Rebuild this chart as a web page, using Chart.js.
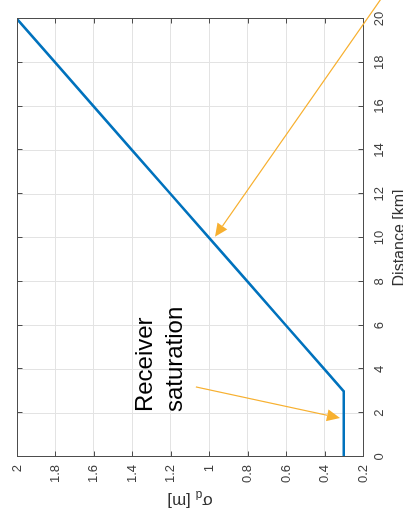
<!DOCTYPE html>
<html>
<head>
<meta charset="utf-8">
<script src="https://cdn.jsdelivr.net/npm/chart.js@4"></script>
<style>
  html, body { margin: 0; padding: 0; background: #fff; }
  body { width: 403px; height: 519px; overflow: hidden; position: relative; }
  /* chart drawn landscape, then turned a quarter turn like the figure */
  #wrap {
    position: absolute; left: 0; top: 0;
    width: 519px; height: 403px;
    transform-origin: 0 0;
    transform: translate(0, 519px) rotate(-90deg);
  }
</style>
</head>
<body>
<div id="wrap"><canvas id="sigmaChart" width="519" height="403"></canvas></div>
<script>
(function () {
  'use strict';

  /* --- DATA --- */
  const distanceKm = [0, 1, 2, 3, 3.9, 6, 8, 10, 12.1, 14, 16.2, 18, 20];
  const sigmaM     = [0.3, 0.3, 0.3, 0.3, 0.39, 0.6, 0.8, 1.0, 1.21, 1.4, 1.62, 1.8, 2.0];

  const distanceTicks = [0, 2, 4, 6, 8, 10, 12, 14, 16, 18, 20];
  const sigmaTicks    = [0.2, 0.4, 0.6, 0.8, 1, 1.2, 1.4, 1.6, 1.8, 2];

  /* annotation anchors, in data units [km, m] */
  const noteLines    = ['Receiver', 'saturation'];
  const noteAnchors  = [[2.05, 1.30], [2.05, 1.14]];
  const satArrow     = { from: [3.2, 1.07], to: [1.78, 0.32] };
  const slopeArrow   = { from: [23.0, -0.06], to: [10.06, 0.97] };

  const FONT   = "'Liberation Sans', Arial, Helvetica, sans-serif";
  const AXIS   = '#404040';
  const GRID   = '#e3e3e3';
  const ORANGE = '#F7B030';

  function seta(ctx, x0, y0, x1, y1) {
    const ang = Math.atan2(y1 - y0, x1 - x0);
    const L = 13, W = 6;
    const bx = x1 - L * Math.cos(ang), by = y1 - L * Math.sin(ang);
    ctx.beginPath();
    ctx.moveTo(x0, y0);
    ctx.lineTo(bx, by);
    ctx.stroke();
    ctx.beginPath();
    ctx.moveTo(x1, y1);
    ctx.lineTo(bx - W * Math.sin(ang), by + W * Math.cos(ang));
    ctx.lineTo(bx + W * Math.sin(ang), by - W * Math.cos(ang));
    ctx.closePath();
    ctx.fill();
  }

  /* box, inner ticks, titles, annotations */
  const moldura = {
    id: 'moldura',
    afterDraw(chart) {
      const { ctx, chartArea: a, scales: { x, y } } = chart;
      ctx.save();

      ctx.strokeStyle = '#4d4d4d';
      ctx.lineWidth = 1;
      const L = Math.round(a.left) + 0.5, R = Math.round(a.right) + 0.5;
      const T = Math.round(a.top) + 0.5, B = Math.round(a.bottom) + 0.5;
      ctx.strokeRect(L, T, R - L, B - T);
      ctx.beginPath();
      distanceTicks.forEach(d => {
        const px = Math.round(x.getPixelForValue(d)) + 0.5;
        ctx.moveTo(px, B); ctx.lineTo(px, B - 5);
        ctx.moveTo(px, T); ctx.lineTo(px, T + 5);
      });
      sigmaTicks.forEach(s => {
        const py = Math.round(y.getPixelForValue(s)) + 0.5;
        ctx.moveTo(L, py); ctx.lineTo(L + 5, py);
        ctx.moveTo(R, py); ctx.lineTo(R - 5, py);
      });
      ctx.stroke();

      /* x title */
      ctx.fillStyle = '#333';
      ctx.font = '16px ' + FONT;
      ctx.textAlign = 'center';
      ctx.textBaseline = 'alphabetic';
      ctx.fillText('Distance [km]', (a.left + a.right) / 2, a.bottom + 40.5);

      /* y title with subscript */
      ctx.save();
      ctx.translate(23, (a.top + a.bottom) / 2);
      ctx.rotate(-Math.PI / 2);
      ctx.textAlign = 'left';
      const fBig = '17px ' + FONT, fSub = '12px ' + FONT;
      ctx.font = fBig; const w1 = ctx.measureText('σ').width, w3 = ctx.measureText(' [m]').width;
      ctx.font = fSub; const w2 = ctx.measureText('d').width;
      let cx = -(w1 + w2 + w3) / 2;
      ctx.font = fBig; ctx.fillText('σ', cx, 0); cx += w1;
      ctx.font = fSub; ctx.fillText('d', cx, 5); cx += w2;
      ctx.font = fBig; ctx.fillText(' [m]', cx, 0);
      ctx.restore();

      /* annotations */
      ctx.fillStyle = '#000';
      ctx.font = '24px ' + FONT;
      ctx.textAlign = 'left';
      noteLines.forEach((t, i) => {
        const [d, s] = noteAnchors[i];
        ctx.fillText(t, x.getPixelForValue(d), y.getPixelForValue(s));
      });

      ctx.strokeStyle = ORANGE;
      ctx.fillStyle = ORANGE;
      ctx.lineWidth = 1.2;
      [satArrow, slopeArrow].forEach(ar => {
        seta(ctx,
          x.getPixelForValue(ar.from[0]), y.getPixelForValue(ar.from[1]),
          x.getPixelForValue(ar.to[0]), y.getPixelForValue(ar.to[1]));
      });

      ctx.restore();
    }
  };

  const ctx = document.getElementById('sigmaChart');
  new Chart(ctx, {
    type: 'line',
    data: {
      datasets: [{
        data: distanceKm.map((d, i) => ({ x: d, y: sigmaM[i] })),
        borderColor: '#0072BD',
        borderWidth: 2.6,
        pointRadius: 0,
        tension: 0,
        fill: false,
      }],
    },
    options: {
      responsive: false,
      animation: false,
      layout: { padding: { top: 17, right: 19, left: 0, bottom: 0 } },
      plugins: { legend: { display: false }, tooltip: { enabled: false } },
      scales: {
        x: {
          type: 'linear', min: 0, max: 20,
          afterBuildTicks: s => { s.ticks = distanceTicks.map(v => ({ value: v })); },
          afterFit: s => { s.height = 40; },
          ticks: { padding: 9, maxRotation: 0, color: AXIS, font: { size: 13, family: FONT } },
          grid: { color: GRID, drawTicks: false },
          border: { display: false },
        },
        y: {
          type: 'linear', min: 0.2, max: 2,
          afterBuildTicks: s => { s.ticks = sigmaTicks.map(v => ({ value: v })); },
          afterFit: s => { s.width = 62; },
          ticks: {
            padding: 8, color: AXIS, font: { size: 13, family: FONT },
            callback: v => String(Math.round(v * 10) / 10),
          },
          grid: { color: GRID, drawTicks: false },
          border: { display: false },
        },
      },
    },
    plugins: [moldura],
  });
})();
</script>
</body>
</html>
